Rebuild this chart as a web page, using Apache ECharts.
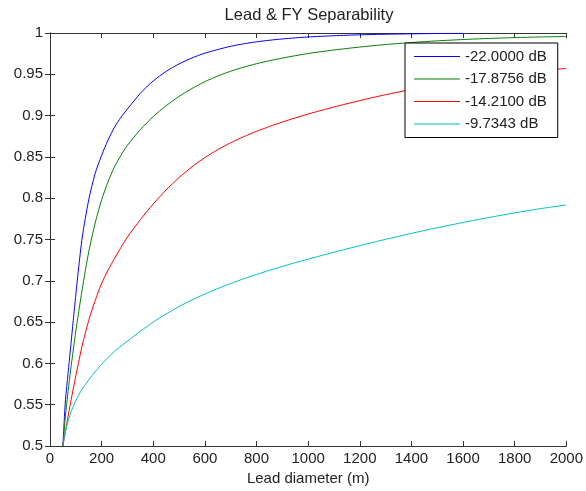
<!DOCTYPE html>
<html>
<head>
<meta charset="utf-8">
<script src="https://cdn.jsdelivr.net/npm/echarts@6/dist/echarts.min.js"></script>
<style>
html,body{margin:0;padding:0;background:#fff;}
#chart{width:586px;height:491px;}
</style>
</head>
<body>
<div id="chart"></div>
<script>
// Lead diameter (m) sample points
var leadDiameter = [50,55,60,70,80,90,100,110,125,150,175,200,225,250,275,300,350,400,450,500,550,600,650,700,750,800,850,900,950,1000,1100,1200,1300,1400,1500,1600,1700,1800,1900,2000];
// Separability for each contrast level
var sep22 = [0.50,0.53,0.556,0.588,0.62,0.652,0.683,0.713,0.753,0.798,0.83,0.852,0.8705,0.886,0.898,0.908,0.927,0.942,0.9535,0.9626,0.9698,0.9756,0.980,0.9839,0.9869,0.9893,0.9912,0.9928,0.9941,0.9952,0.9967,0.9978,0.9985,0.999,0.9994,0.9996,null,null,null,null];
var sep178756 = [0.50,0.519,0.537,0.566,0.592,0.616,0.639,0.66,0.69,0.735,0.77,0.798,0.82,0.838,0.852,0.864,0.883,0.8988,0.912,0.9232,0.9328,0.9411,0.9479,0.9537,0.9586,0.9628,0.9664,0.9696,0.9725,0.9752,0.9794,0.983,0.986,0.9885,0.9905,0.9921,0.9934,0.9944,0.9952,0.9958];
var sep1421 = [0.50,0.509,0.518,0.536,0.553,0.569,0.585,0.60,0.622,0.652,0.676,0.697,0.713,0.727,0.7405,0.753,0.774,0.793,0.810,0.825,0.838,0.8492,0.8588,0.8671,0.8744,0.8809,0.8868,0.8922,0.8972,0.9019,0.9104,0.9182,0.9253,0.9317,0.9374,0.9425,0.9468,0.9506,0.954,0.9572];
var sep97343 = [0.50,0.51,0.518,0.53,0.54,0.548,0.555,0.561,0.569,0.58,0.59,0.599,0.607,0.6145,0.621,0.627,0.639,0.65,0.6599,0.6688,0.6768,0.684,0.6906,0.6967,0.7024,0.7077,0.7127,0.7174,0.7219,0.7262,0.7346,0.7426,0.7502,0.7574,0.7642,0.7706,0.7766,0.7822,0.7874,0.7918];
var seriesNames = ['-22.0000 dB','-17.8756 dB','-14.2100 dB','-9.7343 dB'];
var seriesColors = ['#0000ff','#008000','#ff0000','#00bfbf'];
var xTickLabels = ['0','200','400','600','800','1000','1200','1400','1600','1800','2000'];
var yTickLabels = ['0.5','0.55','0.6','0.65','0.7','0.75','0.8','0.85','0.9','0.95','1'];

function pairs(ys){
  var out = [];
  for (var i = 0; i < leadDiameter.length; i++) {
    if (ys[i] !== null) out.push([leadDiameter[i], ys[i]]);
  }
  return out;
}
function labelFor(list, v){
  for (var i = 0; i < list.length; i++) { if (Math.abs(parseFloat(list[i]) - v) < 1e-6) return list[i]; }
  return '';
}

var FONT = '"Liberation Sans", Arial, Helvetica, sans-serif';
var AXC = '#333333';
var allY = [sep22, sep178756, sep1421, sep97343];

var chart = echarts.init(document.getElementById('chart'), null, {renderer:'canvas'});
var axisCommon = {
  axisLine:{show:true, lineStyle:{color:AXC, width:1}},
  axisTick:{show:true, inside:true, length:5, lineStyle:{color:AXC}},
  splitLine:{show:false}
};
chart.setOption({
  animation:false,
  backgroundColor:'#ffffff',
  title:{
    text:'Lead & FY Separability',
    left:309, top:7, textAlign:'center', padding:0,
    textStyle:{fontFamily:FONT, fontSize:16.5, fontWeight:'normal', color:'#222'}
  },
  legend:{
    orient:'vertical',
    left:405, top:43,
    width:153,
    padding:[6,11,6,9],
    itemGap:7.5,
    itemWidth:46, itemHeight:1,
    icon:'rect',
    backgroundColor:'#ffffff',
    borderColor:'#000000', borderWidth:1,
    textStyle:{fontFamily:FONT, fontSize:15, color:'#222'},
    data:seriesNames
  },
  grid:{left:50, right:17, top:33, bottom:45, containLabel:false},
  xAxis:[
    Object.assign({
      type:'value', min:0, max:2000, interval:200, position:'bottom',
      name:'Lead diameter (m)', nameLocation:'middle', nameGap:25,
      nameTextStyle:{fontFamily:FONT, fontSize:15, color:'#222'},
      axisLabel:{margin:5, fontFamily:FONT, fontSize:15, color:'#222',
        formatter:function(v){return labelFor(xTickLabels, v);}}
    }, axisCommon),
    Object.assign({
      type:'value', min:0, max:2000, interval:200, position:'top',
      axisLabel:{show:false}
    }, axisCommon)
  ],
  yAxis:[
    Object.assign({
      type:'value', min:0.5, max:1, interval:0.05, position:'left',
      axisLabel:{margin:7, fontFamily:FONT, fontSize:15, color:'#222',
        formatter:function(v){return labelFor(yTickLabels, v);}}
    }, axisCommon),
    Object.assign({
      type:'value', min:0.5, max:1, interval:0.05, position:'right',
      axisLabel:{show:false}
    }, axisCommon)
  ],
  series: seriesNames.map(function(n, i){
    return {
      name:n, type:'line', xAxisIndex:0, yAxisIndex:0,
      data:pairs(allY[i]),
      showSymbol:false, symbol:'none',
      smooth:0.25,
      lineStyle:{color:seriesColors[i], width:1},
      itemStyle:{color:seriesColors[i]},
      z:2
    };
  })
});
</script>
</body>
</html>
